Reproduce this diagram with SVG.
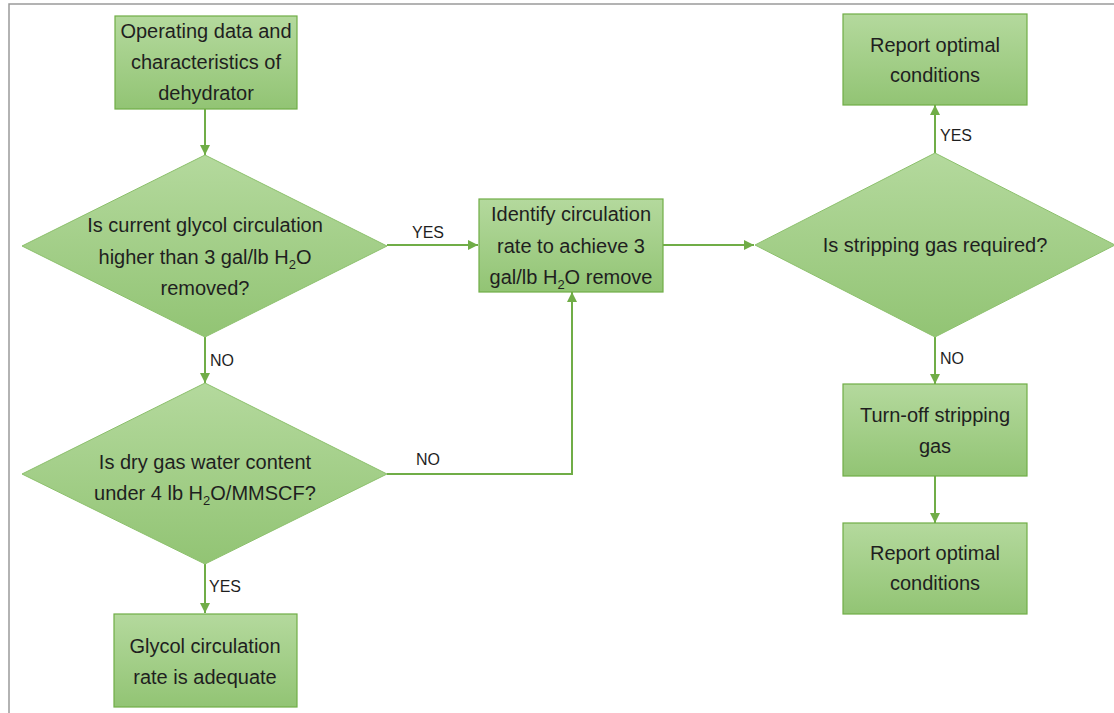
<svg xmlns="http://www.w3.org/2000/svg" width="1114" height="713" viewBox="0 0 1114 713">
<style>
.box{fill:url(#g);stroke:#70ad47;stroke-width:1.2}
.dia{fill:url(#g);stroke:#8cc06c;stroke-width:1}
.t{font-family:"Liberation Sans",Arial,sans-serif;font-size:20px;fill:#1f1f1f;text-anchor:middle}
.lbl{font-family:"Liberation Sans",Arial,sans-serif;font-size:16px;fill:#1f1f1f}
.sub{font-size:13px}
.c{fill:none;stroke:#70ad47;stroke-width:2;marker-end:url(#ah)}
</style>
<defs>
<linearGradient id="g" x1="0" y1="0" x2="0" y2="1">
<stop offset="0" stop-color="#b4d99d"/>
<stop offset="1" stop-color="#92c474"/>
</linearGradient>
<marker id="ah" markerUnits="userSpaceOnUse" markerWidth="10" markerHeight="10" refX="10" refY="5" orient="auto">
<path d="M0,0 L10,5 L0,10 z" fill="#70ad47"/>
</marker>
</defs>
<rect width="1114" height="713" fill="#fff"/>
<path d="M9,713 V4 H1114" fill="none" stroke="#9a9a9a" stroke-width="1.5"/>

<g id="connectors">
<path class="c" d="M205,109 V155"/>
<path class="c" d="M387,245 H478"/>
<path class="c" d="M205,337 V383"/>
<path class="c" d="M387,474 H572 V292"/>
<path class="c" d="M205,564 V613"/>
<path class="c" d="M663,245 H754"/>
<path class="c" d="M935,153 V105"/>
<path class="c" d="M935,337 V384"/>
<path class="c" d="M935,476 V523"/>
<text class="lbl" x="412" y="238">YES</text>
<text class="lbl" x="210" y="366">NO</text>
<text class="lbl" x="416" y="465">NO</text>
<text class="lbl" x="209" y="592">YES</text>
<text class="lbl" x="940" y="141">YES</text>
<text class="lbl" x="940" y="364">NO</text>
</g>

<g id="n1">
<rect class="box" x="115" y="16" width="182" height="93"/>
<text class="t" x="206" y="38">Operating data and</text>
<text class="t" x="206" y="69">characteristics of</text>
<text class="t" x="206" y="100">dehydrator</text>
</g>

<g id="d1">
<polygon class="dia" points="205,155 387,246 205,337 22,246"/>
<text class="t" x="205" y="232">Is current glycol circulation</text>
<text class="t" x="205" y="264">higher than 3 gal/lb H<tspan class="sub" dy="5">2</tspan><tspan dy="-5">O</tspan></text>
<text class="t" x="205" y="295">removed?</text>
</g>

<g id="n2">
<rect class="box" x="479" y="199" width="184" height="93"/>
<text class="t" x="571" y="221">Identify circulation</text>
<text class="t" x="571" y="253">rate to achieve 3</text>
<text class="t" x="571" y="284">gal/lb H<tspan class="sub" dy="5">2</tspan><tspan dy="-5">O remove</tspan></text>
</g>

<g id="d2">
<polygon class="dia" points="205,383 387,474 205,564 22,474"/>
<text class="t" x="205" y="469">Is dry gas water content</text>
<text class="t" x="205" y="500">under 4 lb H<tspan class="sub" dy="5">2</tspan><tspan dy="-5">O/MMSCF?</tspan></text>
</g>

<g id="n3">
<rect class="box" x="114" y="614" width="183" height="93"/>
<text class="t" x="205" y="653">Glycol circulation</text>
<text class="t" x="205" y="684">rate is adequate</text>
</g>

<g id="d3">
<polygon class="dia" points="935,153 1115,245 935,337 755,245"/>
<text class="t" x="935" y="252">Is stripping gas required?</text>
</g>

<g id="n4">
<rect class="box" x="843" y="14" width="184" height="91"/>
<text class="t" x="935" y="52">Report optimal</text>
<text class="t" x="935" y="82">conditions</text>
</g>

<g id="n5">
<rect class="box" x="843" y="384" width="184" height="92"/>
<text class="t" x="935" y="422">Turn-off stripping</text>
<text class="t" x="935" y="453">gas</text>
</g>

<g id="n6">
<rect class="box" x="843" y="523" width="184" height="91"/>
<text class="t" x="935" y="560">Report optimal</text>
<text class="t" x="935" y="590">conditions</text>
</g>
</svg>
